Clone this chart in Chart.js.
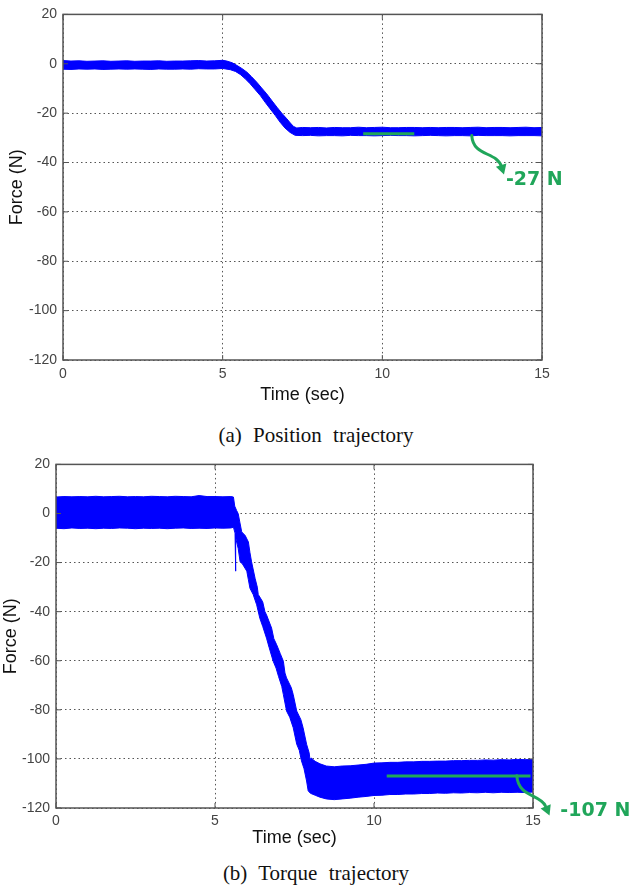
<!DOCTYPE html>
<html>
<head>
<meta charset="utf-8">
<script src="https://cdn.jsdelivr.net/npm/chart.js@4.4.1/dist/chart.umd.min.js"></script>
<style>
  body { margin: 0; background: #fff; width: 632px; height: 887px; position: relative; overflow: hidden; }
  canvas { position: absolute; left: 0; }
  #posChart { top: 0; }
  #torqueChart { top: 450px; }
  .caption { position: absolute; left: 0; width: 632px; text-align: center; color: #111;
    font-family: "Liberation Serif", "Times New Roman", serif; font-size: 21px; line-height: 22px; word-spacing: 6px; }
</style>
</head>
<body>
<canvas id="posChart" width="632" height="410"></canvas>
<div class="caption" style="top:424px">(a) Position trajectory</div>
<canvas id="torqueChart" width="632" height="400"></canvas>
<div class="caption" style="top:862px">(b) Torque trajectory</div>
<script>
// tick labels shared by both plots
const timeTicks = [0, 5, 10, 15];
const forceTicks = [20, 0, -20, -40, -60, -80, -100, -120];

// (a) position trajectory: upper / lower edge of the noisy force band
const posUpperT = [0, 0.25, 0.5, 0.75, 1, 1.25, 1.5, 1.75, 2, 2.25, 2.5, 2.75, 3, 3.25, 3.5, 3.75, 4, 4.25, 4.5, 4.75, 5,
  5.13, 5.3, 5.45, 5.6, 5.76, 5.9, 6.07, 6.22, 6.38, 6.55, 6.7, 6.85, 7.01, 7.12, 7.22, 7.32,
  7.5, 7.75, 8, 8.25, 8.5, 8.75, 9, 9.25, 9.5, 9.75, 10, 10.25, 10.5, 10.75, 11, 11.25, 11.5, 11.75, 12,
  12.25, 12.5, 12.75, 13, 13.25, 13.5, 13.75, 14, 14.25, 14.5, 14.75, 15];
const posUpper = [1.3, 1.1, 1.2, 1.0, 1.1, 1.2, 1.0, 1.1, 1.2, 1.0, 1.1, 1.1, 1.2, 1.0, 1.1, 1.1, 1.2, 1.3, 1.1, 1.2, 1.4,
  1.1, 0.4, -0.7, -1.9, -3.4, -5.2, -7.5, -9.8, -12.2, -15.1, -17.6, -20.0, -22.3, -24.0, -25.4, -26.0,
  -25.8, -25.9, -25.8, -26.0, -25.8, -25.9, -25.9, -25.7, -25.9, -25.8, -25.7, -25.9, -25.9, -25.8, -25.8, -25.9, -25.8, -25.9, -25.8,
  -25.8, -25.9, -25.8, -25.7, -25.9, -25.8, -25.8, -25.9, -25.8, -25.7, -25.9, -25.8];
const posLowerT = [0, 0.25, 0.5, 0.75, 1, 1.25, 1.5, 1.75, 2, 2.25, 2.5, 2.75, 3, 3.25, 3.5, 3.75, 4, 4.25, 4.5, 4.75, 5,
  5.24, 5.4, 5.55, 5.7, 5.86, 6.02, 6.18, 6.33, 6.49, 6.65, 6.8, 6.95, 7.11, 7.27,
  7.5, 7.75, 8, 8.25, 8.5, 8.75, 9, 9.25, 9.5, 9.75, 10, 10.25, 10.5, 10.75, 11, 11.25, 11.5, 11.75, 12,
  12.25, 12.5, 12.75, 13, 13.25, 13.5, 13.75, 14, 14.25, 14.5, 14.75, 15];
const posLower = [-2.2, -2.3, -2.1, -2.2, -2.1, -2.3, -2.2, -2.1, -2.2, -2.1, -2.2, -2.3, -2.1, -2.2, -2.2, -2.1, -2.2, -2.0, -2.1, -2.1, -1.9,
  -2.4, -3.1, -4.3, -6.0, -8.1, -10.5, -12.9, -15.6, -18.3, -21.0, -23.7, -26.0, -27.8, -29.0,
  -29.1, -29.0, -29.2, -29.1, -29.1, -29.2, -29.0, -29.1, -29.1, -29.2, -29.1, -29.0, -29.1, -29.1, -29.2, -29.1, -29.0, -29.1, -29.2,
  -29.1, -29.1, -29.2, -29.0, -29.1, -29.1, -29.1, -29.2, -29.1, -29.1, -29.1, -29.2];
const posMarkT = [9.4, 11.0];
const posMarkY = -28.3;

// (b) torque trajectory: upper / lower edge of the force band
const torUpperT = [0, 0.25, 0.5, 0.75, 1, 1.25, 1.5, 1.75, 2, 2.25, 2.5, 2.75, 3, 3.25, 3.5, 3.75, 4, 4.25, 4.5, 4.75, 5, 5.25, 5.5, 5.58,
  5.62, 5.68, 5.73, 5.78, 5.84, 5.95, 6.05, 6.1, 6.15, 6.26, 6.33, 6.36, 6.5, 6.57, 6.62, 6.78, 6.85, 6.94, 7.05, 7.15, 7.2, 7.25,
  7.4, 7.46, 7.57, 7.7, 7.77, 7.88, 7.96, 7.99,
  8.02, 8.15, 8.3, 8.5, 8.75, 9, 9.25, 9.5, 9.75, 10, 10.25, 10.5, 10.75, 11, 11.25, 11.5, 11.75, 12,
  12.25, 12.5, 12.75, 13, 13.25, 13.5, 13.75, 14, 14.25, 14.5, 14.75, 15];
const torUpper = [6.7, 6.9, 6.8, 6.9, 6.8, 7.0, 6.8, 6.9, 7.0, 6.8, 6.9, 6.8, 7.0, 6.9, 6.8, 7.0, 6.9, 6.8, 7.3, 6.9, 6.9, 6.8, 6.9, 6.7,
  3.0, 1.2, -0.1, -3.5, -7.5, -9.0, -11.6, -16.0, -19.7, -26.4, -30.0, -33.0, -36.0, -40.0, -41.3, -46.7, -51.0, -53.5, -57.0, -60.2, -65.0, -67.0,
  -71.0, -73.8, -80.5, -84.0, -87.3, -94.0, -97.5, -100.5,
  -99.6, -101.0, -102.0, -102.9, -103.2, -102.9, -102.8, -102.5, -102.2, -101.7, -101.6, -101.4, -101.4, -101.2, -101.2, -101.0, -101.0, -100.9,
  -100.9, -100.7, -100.7, -100.6, -100.6, -100.4, -100.5, -100.3, -100.4, -100.2, -100.3, -100.2];
const torLowerT = [0, 0.25, 0.5, 0.75, 1, 1.25, 1.5, 1.75, 2, 2.25, 2.5, 2.75, 3, 3.25, 3.5, 3.75, 4, 4.25, 4.5, 4.75, 5, 5.25, 5.5, 5.58,
  5.63, 5.645, 5.655, 5.73, 5.79, 5.86, 6, 6.05, 6.1, 6.2, 6.31, 6.41, 6.5, 6.62, 6.7, 6.83, 6.92, 7, 7.1, 7.15, 7.25,
  7.35, 7.46, 7.57, 7.65, 7.72, 7.8, 7.88, 7.93,
  8, 8.15, 8.3, 8.5, 8.75, 9, 9.25, 9.5, 9.75, 10, 10.25, 10.5, 10.75, 11, 11.25, 11.5, 11.75, 12,
  12.25, 12.5, 12.75, 13, 13.25, 13.5, 13.75, 14, 14.25, 14.5, 14.75, 15];
const torLower = [-6.0, -6.2, -5.9, -6.1, -6.0, -6.2, -6.0, -6.1, -5.9, -6.0, -6.2, -6.0, -6.1, -6.0, -6.2, -6.0, -5.9, -6.1, -6.0, -6.1, -5.9, -6.0, -5.9, -5.6,
  -8.0, -23.5, -10.0, -14.3, -19.7, -20.5, -23.5, -27.0, -30.5, -33.0, -37.2, -42.7, -46.0, -50.8, -54.5, -60.2, -63.0, -66.5, -70.5, -73.8, -80.5,
  -83.0, -87.3, -94.0, -96.5, -100.8, -104.0, -109.0, -113.0,
  -114.0, -114.8, -115.6, -116.3, -116.6, -116.3, -116.0, -115.6, -115.3, -114.9, -114.8, -114.5, -114.5, -114.3, -114.3, -114.1, -114.1, -113.9,
  -114.0, -113.8, -113.9, -113.7, -113.8, -113.6, -113.8, -113.6, -113.7, -113.6, -113.7, -113.5];
const torMarkT = [10.4, 14.92];
const torMarkY = -107;

const BLUE = '#0000ff';
const GREEN = '#20a65a';

Chart.defaults.font.family = '"Liberation Sans", Arial, sans-serif';

function toPoints(ts, vs) {
  return ts.map((t, i) => ({ x: t, y: vs[i] }));
}

// MATLAB style box with inward ticks
const frame = {
  id: 'frame',
  afterDatasetsDraw(chart) {
    const { ctx, chartArea: a, scales: { x, y } } = chart;
    ctx.save();
    ctx.strokeStyle = '#555';
    ctx.lineWidth = 1;
    ctx.beginPath();
    x.ticks.forEach(tk => {
      const px = x.getPixelForValue(tk.value);
      ctx.moveTo(px, a.bottom); ctx.lineTo(px, a.bottom - 5);
      ctx.moveTo(px, a.top); ctx.lineTo(px, a.top + 5);
    });
    y.ticks.forEach(tk => {
      const py = y.getPixelForValue(tk.value);
      ctx.moveTo(a.left, py); ctx.lineTo(a.left + 5, py);
      ctx.moveTo(a.right, py); ctx.lineTo(a.right - 5, py);
    });
    ctx.stroke();
    ctx.lineWidth = 1.5;
    ctx.strokeRect(a.left, a.top, a.right - a.left, a.bottom - a.top);
    ctx.restore();
  }
};

// green curved arrow + value label, positioned in data units
function makeCallout(path, text, at) {
  return {
    id: 'callout',
    afterDraw(chart) {
      const { ctx, scales: { x, y } } = chart;
      const px = p => [x.getPixelForValue(p[0]), y.getPixelForValue(p[1])];
      const [p0, p1, p2, p3, tip] = path.map(px);
      ctx.save();
      ctx.strokeStyle = GREEN;
      ctx.fillStyle = GREEN;
      ctx.lineWidth = 3;
      ctx.lineCap = 'round';
      ctx.beginPath();
      ctx.moveTo(p0[0], p0[1]);
      ctx.bezierCurveTo(p1[0], p1[1], p2[0], p2[1], p3[0], p3[1]);
      ctx.stroke();
      const ang = Math.atan2(tip[1] - p3[1], tip[0] - p3[0]);
      const len = 10, half = 5.5;
      const bx = tip[0] - len * Math.cos(ang), by = tip[1] - len * Math.sin(ang);
      ctx.beginPath();
      ctx.moveTo(tip[0], tip[1]);
      ctx.lineTo(bx + half * Math.sin(ang), by - half * Math.cos(ang));
      ctx.lineTo(bx - half * Math.sin(ang), by + half * Math.cos(ang));
      ctx.closePath();
      ctx.fill();
      const lp = px(at);
      ctx.font = 'bold 19px "DejaVu Sans"';
      ctx.textAlign = 'left';
      ctx.textBaseline = 'middle';
      ctx.fillText(text, lp[0], lp[1]);
      ctx.restore();
    }
  };
}

function makeChart(id, upper, lower, mark, box, titlePad, callout) {
  const canvas = document.getElementById(id);
  return new Chart(canvas, {
    type: 'line',
    data: {
      datasets: [
        { data: mark, borderColor: GREEN, borderWidth: 3, pointRadius: 0, fill: false },
        { data: upper, borderColor: BLUE, backgroundColor: BLUE, borderWidth: 1, pointRadius: 0, fill: '+1' },
        { data: lower, borderColor: BLUE, borderWidth: 1, pointRadius: 0, fill: false }
      ]
    },
    options: {
      responsive: false,
      animation: false,
      events: [],
      layout: { padding: { top: box.top, right: canvas.width - box.right, left: 0, bottom: 0 } },
      plugins: { legend: { display: false }, tooltip: { enabled: false } },
      elements: { line: { tension: 0 } },
      scales: {
        x: {
          type: 'linear',
          min: timeTicks[0],
          max: timeTicks[timeTicks.length - 1],
          afterBuildTicks: s => { s.ticks = timeTicks.map(v => ({ value: v })); },
          afterFit: s => { s.height = canvas.height - box.bottom; },
          grid: { color: '#555', lineWidth: 1, drawTicks: false },
          border: { display: false, dash: [1.5, 3] },
          ticks: { color: '#444', font: { size: 14 }, padding: titlePad.tick, maxRotation: 0 },
          title: { display: true, text: 'Time (sec)', color: '#111', font: { size: 18, lineHeight: 1 }, padding: { bottom: titlePad.x, top: 0 } }
        },
        y: {
          min: forceTicks[forceTicks.length - 1],
          max: forceTicks[0],
          afterBuildTicks: s => { s.ticks = forceTicks.map(v => ({ value: v })); },
          afterFit: s => { s.width = box.left; },
          grid: { color: '#555', lineWidth: 1, drawTicks: false },
          border: { display: false, dash: [1.5, 3] },
          ticks: { color: '#444', font: { size: 14 }, padding: 6 },
          title: { display: true, text: 'Force (N)', color: '#111', font: { size: 18, lineHeight: 1 }, padding: { top: titlePad.y, bottom: 0 } }
        }
      }
    },
    plugins: [frame, callout]
  });
}

makeChart('posChart',
  toPoints(posUpperT, posUpper), toPoints(posLowerT, posLower),
  posMarkT.map(t => ({ x: t, y: posMarkY })),
  { left: 63, top: 14, right: 542, bottom: 360 },
  { x: 6, y: 8.5, tick: 6 },
  makeCallout([[12.8, -29.1], [12.85, -37.9], [13.58, -35.2], [13.74, -41.9], [13.81, -44.9]], '-27 N', [13.87, -47]));

makeChart('torqueChart',
  toPoints(torUpperT, torUpper), toPoints(torLowerT, torLower),
  torMarkT.map(t => ({ x: t, y: torMarkY })),
  { left: 56, top: 13, right: 533, bottom: 358 },
  { x: 3, y: 2, tick: 5 },
  makeCallout([[14.49, -106.9], [14.55, -115.8], [15.21, -114.2], [15.39, -119.1], [15.52, -123.1]], '-107 N', [15.86, -121.1]));
</script>
</body>
</html>
